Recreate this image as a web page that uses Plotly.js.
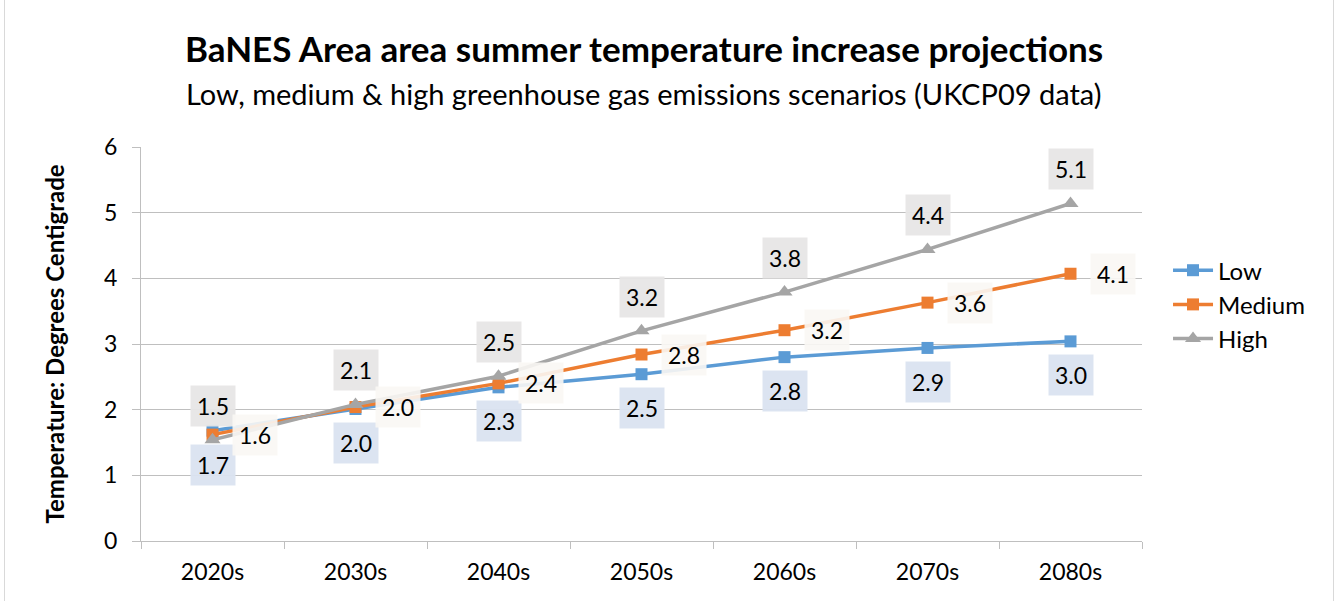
<!DOCTYPE html>
<html>
<head>
<meta charset="utf-8">
<script src="https://cdn.plot.ly/plotly-3.0.1.min.js"></script>
<style>
  html, body { margin: 0; padding: 0; background: #fff; }
  #wrap { position: relative; width: 1338px; height: 601px; overflow: hidden; }
  #chart { width: 1338px; height: 601px; }
  #frame { position: absolute; left: 4px; top: -2px; width: 1328px; height: 610px; border: 1px solid #d9d9d9; pointer-events: none; }
</style>
</head>
<body>
<div id="wrap"><div id="chart"></div><div id="frame"></div></div>
<script>
const decades = ["2020s", "2030s", "2040s", "2050s", "2060s", "2070s", "2080s"];
const lowValues = [1.68, 2.01, 2.34, 2.54, 2.80, 2.94, 3.04];
const mediumValues = [1.62, 2.04, 2.40, 2.84, 3.21, 3.63, 4.07];
const highValues = [1.54, 2.08, 2.51, 3.20, 3.79, 4.44, 5.14];
const yTicks = [0, 1, 2, 3, 4, 5, 6];

const FONT = "Lato, 'Open Sans', sans-serif";
const colors = { Low: "#5b9bd5", Medium: "#ed7d31", High: "#a5a5a5" };

const traces = [
  { name: "Low", x: decades, y: lowValues, type: "scatter", mode: "lines+markers",
    line: { color: colors.Low, width: 3.5 }, marker: { symbol: "square", size: 12, color: colors.Low } },
  { name: "Medium", x: decades, y: mediumValues, type: "scatter", mode: "lines+markers",
    line: { color: colors.Medium, width: 3.5 }, marker: { symbol: "square", size: 12, color: colors.Medium } },
  { name: "High", x: decades, y: highValues, type: "scatter", mode: "lines+markers",
    line: { color: colors.High, width: 3.5 }, marker: { symbol: "triangle-up", size: 14, color: colors.High } }
];

const annotations = [];
function addLabels(vals, opts) {
  vals.forEach((v, i) => {
    annotations.push(Object.assign({
      x: decades[i], y: v, xref: "x", yref: "y",
      text: v.toFixed(1), showarrow: false,
      font: { family: FONT, size: 23, color: "#000" },
      borderpad: 6, xanchor: "center", yanchor: "middle"
    }, opts));
  });
}
addLabels(highValues, { yshift: 34, bgcolor: "rgba(231,230,230,0.95)" });
addLabels(lowValues, { yshift: -34, bgcolor: "rgba(218,227,240,0.95)" });
addLabels(mediumValues, { xshift: 42, bgcolor: "rgba(249,247,244,0.9)" });

annotations.push({
  xref: "paper", yref: "paper", x: 0.502, y: 1.252, xanchor: "center", yanchor: "middle",
  text: "<b>BaNES Area area summer temperature increase projections</b>", showarrow: false,
  font: { family: FONT, size: 35, color: "#000" }
});
annotations.push({
  xref: "paper", yref: "paper", x: 0.502, y: 1.135, xanchor: "center", yanchor: "middle",
  text: "Low, medium &amp; high greenhouse gas emissions scenarios (UKCP09 data)", showarrow: false,
  font: { family: FONT, size: 29, color: "#000" }
});

const layout = {
  width: 1338, height: 601,
  margin: { l: 141, r: 196, t: 147, b: 60 },
  paper_bgcolor: "#fff", plot_bgcolor: "#fff",
  font: { family: FONT, size: 20, color: "#000" },
  showlegend: true,
  legend: { x: 1.026, y: 0.6, xanchor: "left", yanchor: "middle",
    font: { family: FONT, size: 24, color: "#000" }, tracegroupgap: 0, itemwidth: 40 },
  xaxis: {
    type: "category", range: [-0.5, 6.5],
    showgrid: false, zeroline: false,
    showline: true, linecolor: "#bfbfbf", linewidth: 1,
    ticks: "outside", tickson: "boundaries", ticklen: 7, tickcolor: "#bfbfbf",
    ticklabelstandoff: 10,
    tickfont: { family: FONT, size: 23, color: "#000" }
  },
  yaxis: {
    range: [0, 6], tickvals: yTicks, ticktext: yTicks.map(String),
    showgrid: true, gridcolor: "#bfbfbf", gridwidth: 1, zeroline: false,
    showline: true, linecolor: "#bfbfbf", linewidth: 1,
    ticks: "outside", ticklen: 8, tickcolor: "#bfbfbf",
    ticklabelstandoff: 10,
    tickfont: { family: FONT, size: 23, color: "#000" },
    title: { text: "<b>Temperature: Degrees Centigrade</b>", font: { family: FONT, size: 24, color: "#000" }, standoff: 32 }
  },
  annotations: annotations
};

Plotly.newPlot("chart", traces, layout, { displayModeBar: false, staticPlot: true });
</script>
</body>
</html>
